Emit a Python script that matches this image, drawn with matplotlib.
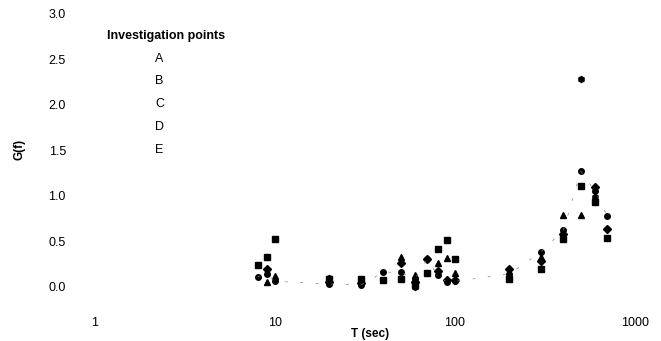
import numpy as np
import matplotlib
matplotlib.use("Agg")
import matplotlib.pyplot as plt

plt.rcParams['font.family'] = ['Liberation Sans', 'DejaVu Sans']

nan = np.nan
T = [8, 9, 10, 20, 30, 40, 50, 60, 70, 80, 90, 100, 200, 300, 400, 500, 600, 700]
A = [nan, 0.20, nan, 0.05, 0.04, nan, 0.26, 0.05, 0.30, 0.17, 0.07, 0.07, 0.19, 0.28, 0.58, nan, 1.10, 0.64]
B = [0.24, 0.33, 0.52, 0.08, 0.09, 0.07, 0.08, 0.02, 0.15, 0.41, 0.51, 0.30, 0.08, 0.19, 0.53, 1.11, 0.93, 0.54]
C = [nan, 0.05, 0.12, 0.06, 0.06, nan, 0.33, 0.13, nan, 0.26, 0.32, 0.15, 0.12, 0.33, 0.79, 0.79, nan, nan]
D = [0.11, 0.14, 0.06, 0.03, 0.02, 0.16, 0.16, 0.09, 0.30, 0.13, 0.05, 0.06, 0.14, 0.38, 0.62, 1.27, 1.05, 0.78]
E = [nan, nan, nan, 0.10, nan, nan, nan, 0.00, nan, nan, nan, nan, nan, nan, nan, 2.29, 0.99, nan]

series = [("A", A, "D", 3.6), ("B", B, "s", 4), ("C", C, "^", 4.2),
          ("D", D, "o", 4), ("E", E, "h", 4.3)]

fig = plt.figure(figsize=(6.61, 3.41), dpi=100)
ax = fig.add_axes([95/661, 1-314/341, 540/661, 300/341])

handles = []
for name, vals, mk, ms in series:
    h, = ax.plot(T, vals, linestyle="none", marker=mk, markersize=ms,
                 color="black", label=name)
    handles.append(h)

# faint dashed trend through D
ax.plot(T, D, linestyle=(0, (4, 18)), lw=0.5, color="0.5")

ax.set_xscale("log")
ax.set_xlim(1, 1000)
ax.set_ylim(-0.3, 3.0)
ax.set_yticks([0.0, 0.5, 1.0, 1.5, 2.0, 2.5, 3.0])
ax.set_yticklabels(["0.0", "0.5", "1.0", "1.5", "2.0", "2.5", "3.0"])
ax.set_xticks([1, 10, 100, 1000])
ax.set_xticklabels(["1", "10", "100", "1000"])
ax.minorticks_off()
ax.tick_params(axis="both", length=0, labelsize=9)
ax.tick_params(axis="y", pad=21)
ax.tick_params(axis="x", pad=2)
for s in ax.spines.values():
    s.set_visible(False)

ax.set_xlabel("T (sec)", fontsize=8.5, fontweight="bold")
ax.xaxis.set_label_coords(0.509, -0.047)
ax.set_ylabel("G(f)", fontsize=8.5, fontweight="bold")
ax.yaxis.set_label_coords(-0.128, 0.547)

leg = fig.legend(handles=handles, loc="upper left",
                 bbox_to_anchor=(107/661, 1-30/341), frameon=False,
                 fontsize=9, title="Investigation points",
                 title_fontproperties={"weight": "bold", "size": 9},
                 handlelength=3.0, handletextpad=0.84, labelspacing=0.86,
                 borderpad=0, borderaxespad=0, alignment="left")
for h in leg.legend_handles:
    h.set_visible(False)

fig.savefig("out.png", dpi=100)
